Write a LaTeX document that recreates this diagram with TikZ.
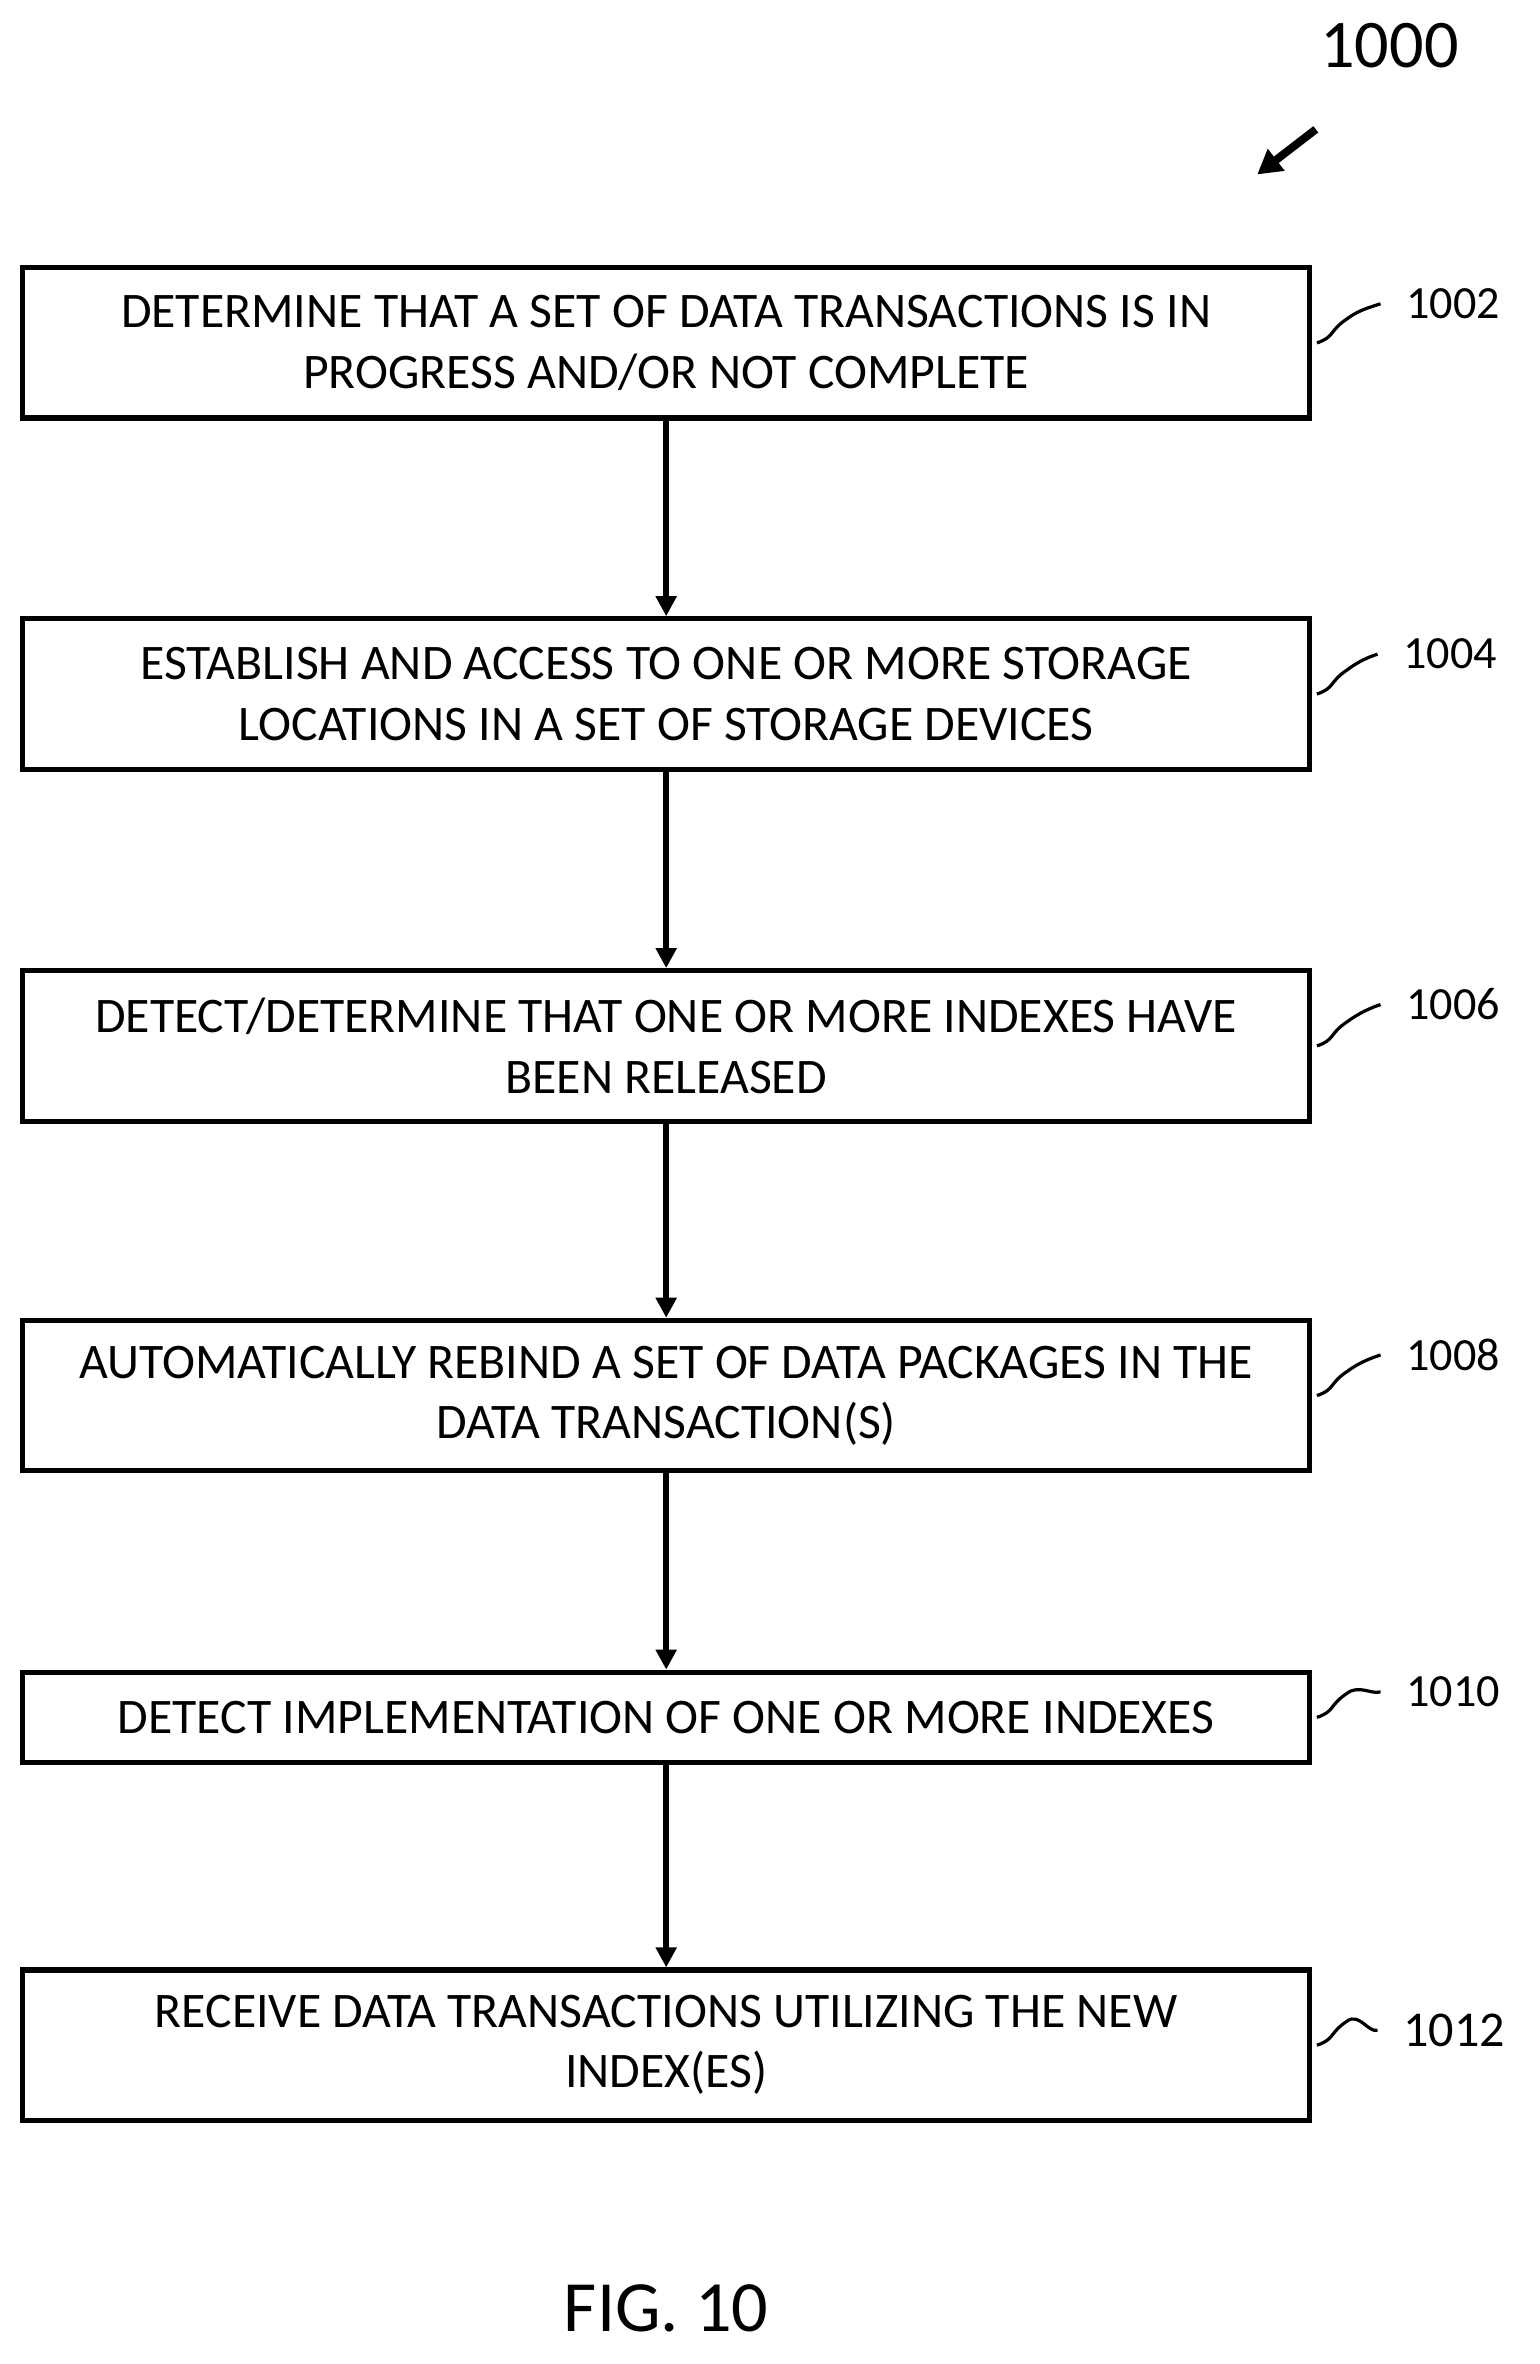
\documentclass[tikz,border=0pt]{standalone}
\usepackage{fontspec}
\setmainfont{Carlito}
\usetikzlibrary{positioning,arrows.meta}
\tikzset{
  stepbox/.style={draw,line width=2.6pt,minimum width=642pt,align=center,font=\fontsize{24.8}{30}\selectfont,inner sep=0pt},
  flow/.style={line width=3pt,-{Triangle[length=10pt,width=10pt]}},
  refno/.style={font=\fontsize{23}{26}\selectfont,anchor=west,inner sep=0.75pt},
  squig/.style={line width=1.6pt}
}
\begin{document}
\begin{tikzpicture}[x=0.75pt,y=0.75pt,yscale=-1,xscale=1]
\useasboundingbox (0,0) rectangle (1024,1572);

% steps
\node[stepbox,minimum height=75pt] (s1) at (443,228) {DETERMINE THAT A SET OF DATA TRANSACTIONS IS IN\\PROGRESS AND/OR NOT COMPLETE};
\node[stepbox,minimum height=75pt] (s2) at (443,461.5) {ESTABLISH AND ACCESS TO ONE OR MORE STORAGE\\LOCATIONS IN A SET OF STORAGE DEVICES};
\node[stepbox,minimum height=75pt] (s3) at (443,695.5) {DETECT/DETERMINE THAT ONE OR MORE INDEXES HAVE\\BEEN RELEASED};
\node[stepbox,minimum height=75pt] (s4) at (443,928) {AUTOMATICALLY REBIND A SET OF DATA PACKAGES IN THE\\DATA TRANSACTION(S)};
\node[stepbox,minimum height=45pt] (s5) at (443,1142) {DETECT IMPLEMENTATION OF ONE OR MORE INDEXES};
\node[stepbox,minimum height=75pt] (s6) at (443,1360) {RECEIVE DATA TRANSACTIONS UTILIZING THE NEW\\INDEX(ES)};

% connectors
\draw[flow] (s1) -- (s2);
\draw[flow] (s2) -- (s3);
\draw[flow] (s3) -- (s4);
\draw[flow] (s4) -- (s5);
\draw[flow] (s5) -- (s6);

% reference numbers
\node[refno] (n1) at (934,202) {1002};
\node[refno] (n2) at (932,435) {1004};
\node[refno] (n3) at (934,668) {1006};
\node[refno] (n4) at (934,901) {1008};
\node[refno] (n5) at (934,1125) {1010};
\node[refno,font=\fontsize{25}{28}\selectfont] (n6) at (932,1350) {1012};
\foreach \s/\n in {s1/n1,s2/n2,s3/n3,s4/n4,s5/n5,s6/n6}
  \draw[squig] (\s.east) ++(3,0) .. controls +(12,-4) and +(-12,8) .. ++(20,-16) .. controls +(8,-6) and +(-6,2) .. ([xshift=-12pt]\n.west);

% figure number
\node[font=\fontsize{34}{38}\selectfont] (fno) at (924,30) {1000};
\coordinate (fa) at (875,86);
\draw[line width=4pt,-{Triangle[length=12pt,width=13pt]}] (fa) -- (836,116);
\node[font=\fontsize{36}{40}\selectfont] (cap) at (443,1535) {FIG. 10};
\end{tikzpicture}
\end{document}
